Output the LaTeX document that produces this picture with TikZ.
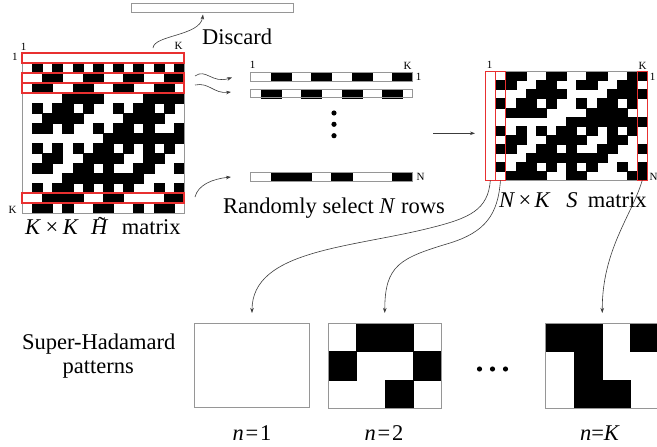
\documentclass[tikz,border=0pt]{standalone}
\usepackage{fontspec}
\setmainfont{Liberation Serif}
\usetikzlibrary{arrows.meta}
\definecolor{hred}{RGB}{232,48,48}
\definecolor{framegray}{RGB}{150,150,150}
\definecolor{linegray}{RGB}{60,60,60}
\newcommand{\hadbit}[2]{\pgfmathtruncatemacro\hb{mod(mod(#1,2)*mod(#2,2)+mod(floor(#1/2),2)*mod(floor(#2/2),2)+mod(floor(#1/4),2)*mod(floor(#2/4),2)+mod(floor(#1/8),2)*mod(floor(#2/8),2),2)}}
\newcommand{\Htilde}{\makebox[0pt][l]{\hspace{0.30em}\raisebox{0.06em}{\char"02DC}}\textit{H}}
\begin{document}
\begin{tikzpicture}[x=1pt,y=-1pt,
  bigtext/.style={font=\fontsize{22.5}{27}\selectfont, inner sep=0pt},
  smalltext/.style={font=\fontsize{11}{13}\selectfont, inner sep=0pt},
  matframe/.style={draw=framegray, line width=0.8pt, inner sep=0pt, outer sep=0pt},
  redbox/.style={draw=hred, line width=1.3pt, inner sep=0pt, outer sep=0pt},
  cell/.style={fill=black, draw=black, line width=0.2pt},
  conn/.style={draw=linegray, line width=0.6pt, -{Stealth[length=5pt,width=3.5pt]}},
  dot/.style={fill=black},
]
\useasboundingbox (0,0) rectangle (657,447);
\fill[white] (0,0) rectangle (657,447);

% ---------- K x K Hadamard matrix ----------
\foreach \i in {0,...,15}{
  \foreach \j in {0,...,15}{
    \hadbit{\i}{\j}
    \ifnum\hb=1 \fill[cell] (22+\j*10.125, 53+\i*10) rectangle ++(10.125,10); \fi
  }
}
\node[matframe, minimum width=162, minimum height=160, anchor=north west] (H) at (22,53) {};
\node[redbox, minimum width=162, minimum height=10, anchor=north west] (hr1) at (22,53) {};
\node[redbox, minimum width=162, minimum height=10, anchor=north west] (hr3) at (22,73) {};
\node[redbox, minimum width=162, minimum height=10, anchor=north west] (hr4) at (22,83) {};
\node[redbox, minimum width=162, minimum height=10, anchor=north west] (hr15) at (22,193) {};
\node[smalltext] (hc1) at (23.5,46.5) {1};
\node[smalltext] (hcK) at (178.5,45.5) {K};
\node[smalltext] (hr1l) at (15,57) {1};
\node[smalltext] (hrKl) at (12.5,209.5) {K};
\node[bigtext, anchor=base west] (Hlab) at (25,234)
  {\textit{K}\hspace{0.2em}×\hspace{0.2em}\textit{K}\hspace{0.55em}\Htilde\hspace{0.6em}matrix};

% ---------- discarded row ----------
\node[matframe, minimum width=162, minimum height=9, anchor=north west] (disc) at (131,3.3) {};
\node[bigtext, anchor=base west] (disclab) at (202,45) {Discard};
\coordinate (ds) at (153,48);
\coordinate (de) at (203,14.5);
\draw[conn] (ds) .. controls (154,35) and (200,36) .. (de);

% ---------- selected rows ----------
\foreach \r/\y/\nm in {2/72.3/s1, 3/89/s2, 14/172.3/sN}{
  \foreach \j in {0,...,15}{
    \hadbit{\r}{\j}
    \ifnum\hb=1 \fill[cell] (250.7+\j*10.1, \y) rectangle ++(10.1,8.6); \fi
  }
  \node[matframe, minimum width=161.6, minimum height=8.6, anchor=north west] (\nm) at (250.7,\y) {};
}
\node[smalltext] (sc1lab) at (252.5,65) {1};
\node[smalltext] (sKlab) at (407.5,65.5) {K};
\node[smalltext] (sr1lab) at (418.5,77) {1};
\node[smalltext] (sNlab) at (420.5,177) {N};
\fill[dot] (334,113) circle (2.6);
\fill[dot] (334,124.3) circle (2.6);
\fill[dot] (334,135.7) circle (2.6);
\node[bigtext, anchor=base west] (randlab) at (223,213) {Randomly select \textit{N} rows};

\coordinate (w1s) at (195,76);
\coordinate (w1e) at (232,77.5);
\coordinate (w2s) at (195,85);
\coordinate (w2e) at (231,92);
\coordinate (w3s) at (195,197);
\coordinate (w3e) at (231,177);
\draw[conn] (w1s) .. controls (206,68) and (212,84) .. (w1e);
\draw[conn] (w2s) .. controls (209,82) and (214,94) .. (w2e);
\draw[conn] (w3s) .. controls (198,185) and (212,179) .. (w3e);

% ---------- N x K S matrix ----------
\foreach \r [count=\k from 0] in {2,3,4,5,6,8,9,10,11,12,13,14}{
  \foreach \j in {0,...,15}{
    \hadbit{\r}{\j}
    \ifnum\hb=1 \fill[cell] (485.3+\j*10.125, 71.3+\k*9.083) rectangle ++(10.125,9.083); \fi
  }
}
\node[matframe, minimum width=162, minimum height=109, anchor=north west] (S) at (485.3,71.3) {};
\node[redbox, minimum width=10.125, minimum height=109, anchor=north west] (sc1) at (485.3,71.3) {};
\node[redbox, minimum width=10.125, minimum height=109, anchor=north west] (sc2) at (495.4,71.3) {};
\node[redbox, minimum width=10.125, minimum height=109, anchor=north west] (scK) at (637.2,71.3) {};
\node[smalltext] (Sc1lab) at (489.5,64.5) {1};
\node[smalltext] (ScKlab) at (642.5,65.5) {K};
\node[smalltext] (Sr1lab) at (652.5,77) {1};
\node[smalltext] (SrNlab) at (653.5,177) {N};
\node[bigtext, anchor=base west] (Slab) at (499,207)
  {\textit{N}\hspace{0.15em}×\hspace{0.15em}\textit{K}\hspace{0.7em}\textit{S}\hspace{0.45em}matrix};

\coordinate (ma1) at (433,133.3);
\coordinate (ma2) at (475,133.3);
\draw[conn] (ma1) -- (ma2);

% ---------- Super-Hadamard patterns ----------
\node[bigtext, anchor=base] (sh1) at (98.7,349) {Super-Hadamard};
\node[bigtext, anchor=base] (sh2) at (98.3,373) {patterns};

\node[matframe, minimum width=115, minimum height=84, anchor=north west] (p1) at (194.5,323) {};

\foreach \c/\rr in {2/1,3/1,1/2,4/2,3/3}{
  \fill[cell] (328.3+\c*28.25-28.25, 323+\rr*28.4-28.4) rectangle ++(28.25,28.4);
}
\node[matframe, minimum width=113, minimum height=85.2, anchor=north west] (p2) at (328.3,323) {};

\foreach \c/\rr in {1/1,2/1,4/1,2/2,2/3,3/3}{
  \fill[cell] (545.8+\c*28.25-28.25, 323+\rr*28.4-28.4) rectangle ++(28.25,28.4);
}
\node[matframe, minimum width=113, minimum height=85.2, anchor=north west] (pK) at (545.8,323) {};

\fill[dot] (479.5,369) circle (2.6);
\fill[dot] (492.5,369) circle (2.6);
\fill[dot] (505.5,369) circle (2.6);

\node[bigtext, anchor=base] (n1) at (252,440) {\textit{n}\hspace{0.08em}=\hspace{0.08em}1};
\node[bigtext, anchor=base] (n2) at (384,440) {\textit{n}\hspace{0.08em}=\hspace{0.08em}2};
\node[bigtext, anchor=base] (nK) at (600,440) {\textit{n}=\textit{K}};

\draw[conn, shorten >=10pt] (sc1.south) .. controls (488,210) and (470,218) .. (430,228)
   .. controls (350,248) and (252,250) .. (p1.north);
\draw[conn, shorten >=10pt] (sc2.south) .. controls (498,215) and (485,232) .. (450,243)
   .. controls (400,258) and (384.7,265) .. (p2.north);
\draw[conn, shorten >=10pt] (scK.south) .. controls (632,215) and (602,250) .. (pK.north);
\end{tikzpicture}
\end{document}
